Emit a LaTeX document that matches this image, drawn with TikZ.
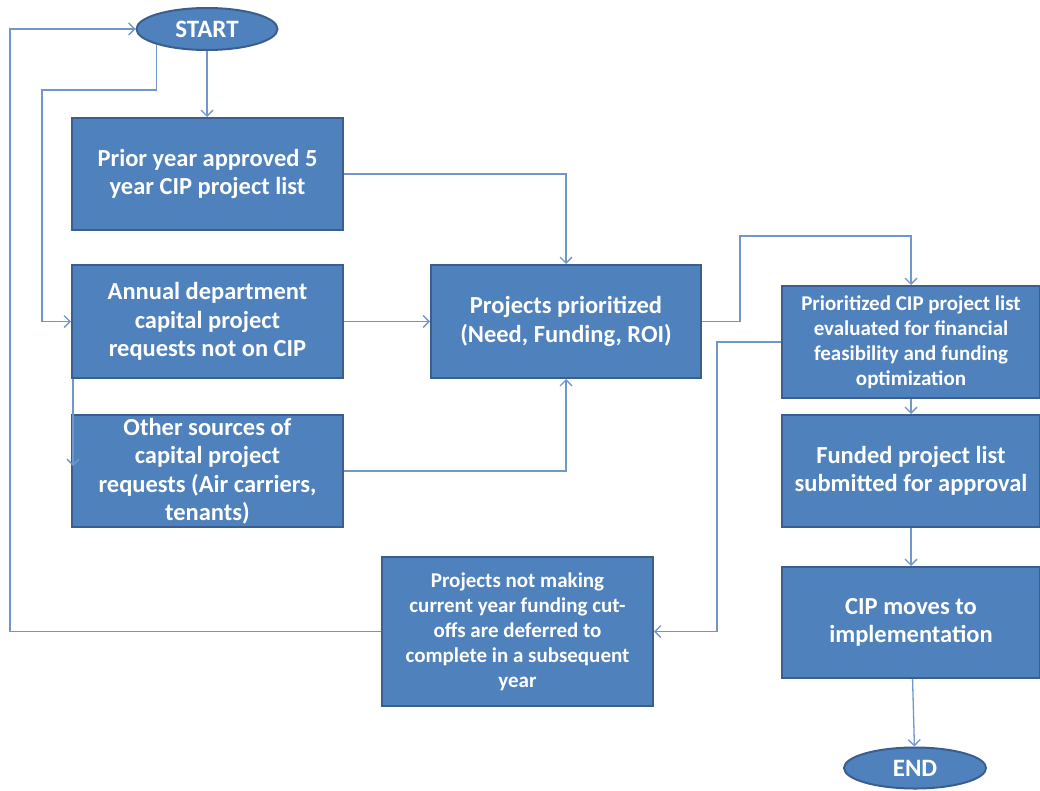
\documentclass[tikz,border=0pt]{standalone}
\usepackage{fontspec}
\setmainfont{Carlito}
\usetikzlibrary{arrows.meta,shapes.geometric,calc}
\definecolor{boxfill}{HTML}{4F81BD}
\definecolor{boxline}{HTML}{3A5F8E}
\definecolor{conn}{HTML}{7096CC}
\begin{document}
\begin{tikzpicture}[x=1pt,y=-1pt,
  procbox/.style={rectangle,draw=boxline,line width=2pt,fill=boxfill,text=white,
    font=\fontsize{24.5}{28.5}\selectfont\bfseries,align=center,inner sep=2pt},
  smallbox/.style={procbox,font=\fontsize{21}{25}\selectfont\bfseries},
  term/.style={ellipse,draw=boxline,line width=2pt,fill=boxfill,text=white,
    font=\fontsize{25}{28}\selectfont\bfseries,inner sep=0pt},
  link/.style={draw=conn,line width=1.3pt,-{Straight Barb[length=6pt,width=12pt,line width=1.3pt]}}
]
\useasboundingbox (0,0) rectangle (1040,790);

\node[term,minimum width=141pt,minimum height=42pt] (start) at (207,29) {START};
\node[term,minimum width=142pt,minimum height=41pt] (end) at (915,768) {END};

\node[procbox,minimum width=271pt,minimum height=112pt] (b1) at (207.5,174)
  {Prior year approved 5\\year CIP project list};
\node[procbox,minimum width=271pt,minimum height=113pt] (b2) at (207.5,321.5)
  {Annual department\\capital project\\requests not on CIP};
\node[procbox,minimum width=271pt,minimum height=112pt,inner sep=0pt] (b3) at (207.5,471)
  {Other sources of\\capital project\\requests (Air carriers,\\tenants)};
\node[procbox,minimum width=270pt,minimum height=113pt] (b4) at (566,321.5)
  {Projects prioritized\\(Need, Funding, ROI)};
\node[smallbox,minimum width=258pt,minimum height=112pt] (b5) at (911,342)
  {Prioritized CIP project list\\evaluated for financial\\feasibility and funding\\optimization};
\node[procbox,minimum width=258pt,minimum height=112pt] (b6) at (911,471)
  {Funded project list\\submitted for approval};
\node[procbox,minimum width=258pt,minimum height=111pt] (b7) at (911,622.5)
  {CIP moves to\\implementation};
\node[smallbox,minimum width=271pt,minimum height=149pt] (b8) at (517.5,631.5)
  {Projects not making\\current year funding cut-\\offs are deferred to\\complete in a subsequent\\year};

\coordinate (c1) at (42,90);
\coordinate (c3) at (73,466);
\coordinate (c7) at (740,236);
\coordinate (c8) at (717,500);
\coordinate (c12) at (10,30);

\draw[link] (start) -- (start |- b1.north);
\draw[link] (start.-163) |- (c1) |- (b2.west);
\draw[link] (b2.south west -| c3) -- (c3);
\draw[link] (b1.east) -| (b4.north);
\draw[link] (b2.east) -- (b4.west);
\draw[link] (b3.east) -| (b4.south);
\draw[link] (b4.east) -| (c7) -| (b5.north);
\draw[link] (b5.west) -| (c8) |- (b8.east);
\draw[link] (b5) -- (b6);
\draw[link] (b6) -- (b7);
\draw[link] (b7) -- (end);
\draw[link] (b8.west) -| (c12) |- (start.west);
\end{tikzpicture}
\end{document}
